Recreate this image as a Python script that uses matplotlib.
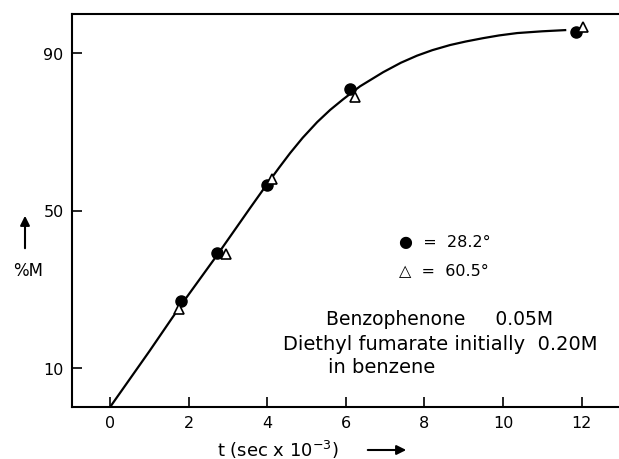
import matplotlib.pyplot as plt

# data
t_circ = [1.8, 2.72, 4.0, 6.1, 11.86]
m_circ = [27.0, 39.2, 56.5, 81.0, 95.4]
t_tri = [1.75, 2.95, 4.12, 6.23, 12.03]
m_tri = [25.0, 39.0, 58.0, 79.0, 96.7]

# smooth curve
t_curve = [0, 1.0, 1.78, 2.72, 3.56, 4.0, 4.3, 4.58, 4.9, 5.27, 5.6, 5.93,
           6.36, 6.95, 7.4, 7.81, 8.2, 8.65, 9.05, 9.49, 9.9, 10.36, 11.0, 11.58]
m_curve = [0, 14.2, 25.6, 38.6, 50.6, 56.8, 60.9, 64.6, 68.5, 72.5, 75.6, 78.3,
           81.6, 85.2, 87.6, 89.4, 90.8, 92.1, 93.0, 93.85, 94.55, 95.15, 95.6, 95.9]

fig = plt.figure(figsize=(6.19, 4.6), dpi=100)
ax = fig.add_axes([72/619, 52/460, 547/619, 393/460])

ax.plot(t_curve, m_curve, color="black", lw=1.6)
ax.plot(t_circ, m_circ, "o", color="black", ms=8)
ax.plot(t_tri, m_tri, "^", mfc="white", mec="black", mew=1.2, ms=7.5)

ax.set_xlim(-0.97, 12.95)
ax.set_ylim(0, 100)
ax.set_xticks([0, 2, 4, 6, 8, 10, 12])
ax.set_yticks([10, 50, 90])
ax.tick_params(direction="in", length=7, width=1.2, labelsize=11.5, pad=6)
ax.spines["right"].set_visible(False)
for s in ["left", "bottom", "top"]:
    ax.spines[s].set_linewidth(1.5)

ax.text(7.35, 42.0, "●  =  28.2°", fontsize=11.5, va="center")
ax.text(7.35, 35.0, "△  =  60.5°", fontsize=11.5, va="center")
ax.text(5.5, 22.5, "Benzophenone     0.05M", fontsize=13.5, va="center")
ax.text(4.4, 16.2, "Diethyl fumarate initially  0.20M", fontsize=14, va="center")
ax.text(5.55, 10.2, "in benzene", fontsize=14, va="center")

# y label with arrow
fig.text(28/619, 1 - 271/460, "%M", fontsize=12, ha="center", va="center")
ax.annotate("", xy=(25/619, 1 - 214/460), xytext=(25/619, 1 - 252/460),
            xycoords="figure fraction", textcoords="figure fraction",
            arrowprops=dict(arrowstyle="-|>", color="black", lw=1.5,
                            mutation_scale=14))

# x label with arrow
fig.text(278/619, 1 - 450/460, "t (sec x 10$^{-3}$)", fontsize=13,
         ha="center", va="center")
ax.annotate("", xy=(409/619, 1 - 451/460), xytext=(365/619, 1 - 451/460),
            xycoords="figure fraction", textcoords="figure fraction",
            arrowprops=dict(arrowstyle="-|>", color="black", lw=1.5,
                            mutation_scale=14))

fig.savefig("out.png", dpi=100)
